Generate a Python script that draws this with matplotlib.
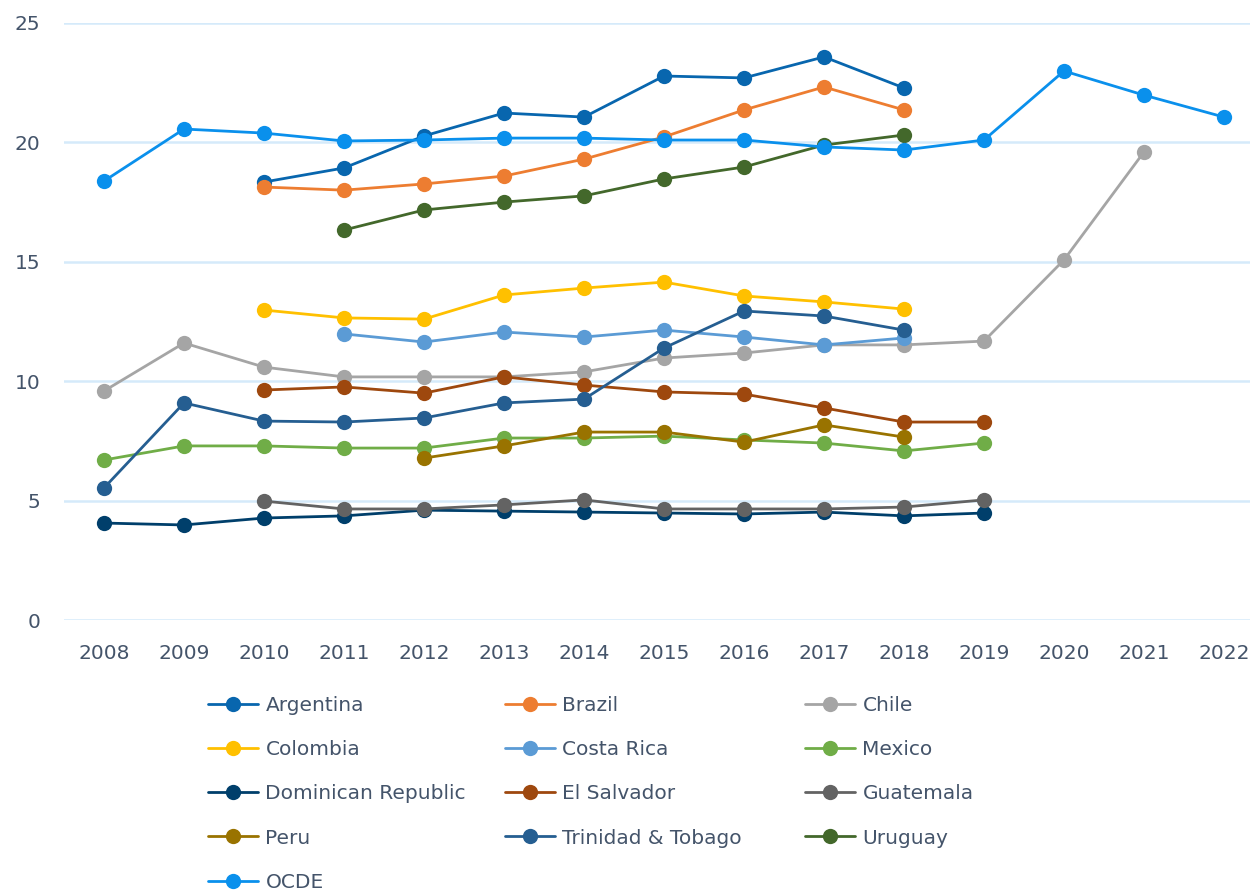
import matplotlib
matplotlib.use("Agg")
import matplotlib.pyplot as plt
import numpy as np

years = list(range(2008, 2023))

argentina = [None, None, 18.34, 18.93, 20.27, 21.23, 21.06, 22.78, 22.70, 23.58, 22.28, None, None, None, None]
brazil = [None, None, 18.13, 18.0, 18.26, 18.59, 19.3, 20.23, 21.36, 22.32, 21.36, None, None, None, None]
chile = [9.59, 11.6, 10.59, 10.18, 10.18, 10.18, 10.39, 10.97, 11.18, 11.52, 11.52, 11.68, 15.08, 19.6, None]
colombia = [None, None, 12.98, 12.65, 12.6, 13.61, 13.9, 14.15, 13.57, 13.32, 13.02, None, None, None, None]
costa_rica = [None, None, None, 11.98, 11.64, 12.06, 11.85, 12.14, 11.85, 11.52, 11.81, None, None, None, None]
mexico = [6.7, 7.29, 7.29, 7.2, 7.2, 7.62, 7.62, 7.7, 7.54, 7.41, 7.08, 7.41, None, None, None]
dominican = [4.06, 3.98, 4.27, 4.36, 4.6, 4.56, 4.52, 4.48, 4.44, 4.52, 4.36, 4.48, None, None, None]
el_salvador = [None, None, 9.63, 9.76, 9.5, 10.18, 9.84, 9.55, 9.46, 8.88, 8.29, 8.29, None, None, None]
guatemala = [None, None, 4.98, 4.65, 4.65, 4.82, 5.03, 4.65, 4.65, 4.65, 4.73, 5.03, None, None, None]
peru = [None, None, None, None, 6.78, 7.29, 7.87, 7.87, 7.45, 8.17, 7.66, None, None, None, None]
trinidad = [5.53, 9.09, 8.33, 8.29, 8.46, 9.09, 9.25, 11.39, 12.94, 12.73, 12.14, None, None, None, None]
uruguay = [None, None, None, 16.33, 17.17, 17.5, 17.76, 18.47, 18.97, 19.89, 20.31, None, None, None, None]
ocde = [18.38, 20.56, 20.39, 20.06, 20.1, 20.18, 20.18, 20.1, 20.1, 19.81, 19.68, 20.1, 22.99, 21.98, 21.06]

names = ["Argentina", "Brazil", "Chile", "Colombia", "Costa Rica", "Mexico",
         "Dominican Republic", "El Salvador", "Guatemala", "Peru",
         "Trinidad & Tobago", "Uruguay", "OCDE"]
series = [argentina, brazil, chile, colombia, costa_rica, mexico, dominican,
          el_salvador, guatemala, peru, trinidad, uruguay, ocde]
colors = ["#0866AE", "#ED7D31", "#A5A5A5", "#FFC000", "#5B9BD5", "#70AD47",
          "#003F6B", "#9E480E", "#636363", "#997300", "#255E91", "#43682B", "#0A90EC"]

yticks = [0, 5, 10, 15, 20, 25]

plt.rcParams['font.family'] = ['DejaVu Sans']
text_color = "#44546A"

fig = plt.figure(figsize=(12.5, 8.93), dpi=100)
ax = fig.add_axes([64 / 1250, 1 - 620 / 893, 1200 / 1250, 597 / 893])

lines = []
for name, vals, col in zip(names, series, colors):
    x = [y for y, v in zip(years, vals) if v is not None]
    y = [v for v in vals if v is not None]
    ln, = ax.plot(x, y, color=col, lw=2.0, marker='o', markersize=11,
                  markeredgewidth=0, label=name, solid_capstyle='round', clip_on=False)
    lines.append(ln)

ax.set_xlim(2007.5, 2022.5)
ax.set_ylim(0, 25)
ax.set_xticks(years)
ax.set_xticklabels([str(y) for y in years])
ax.set_yticks(yticks)
ax.set_yticklabels([str(t) for t in yticks])
ax.grid(axis='y', color='#D5EAFA', lw=1.8)
ax.set_axisbelow(True)
for s in ax.spines.values():
    s.set_visible(False)
ax.tick_params(axis='both', length=0, labelsize=14.5, labelcolor=text_color)
ax.tick_params(axis='y', pad=17)
ax.tick_params(axis='x', pad=17.5)

# legend: three columns, rows filled left to right
cols = [[0, 3, 6, 9, 12], [1, 4, 7, 10], [2, 5, 8, 11]]
col_x = [208, 505, 805]
for cx, idx in zip(col_x, cols):
    fig.legend([lines[i] for i in idx], [names[i] for i in idx],
               loc='upper left', bbox_to_anchor=(cx / 1250, 1 - 696 / 893),
               frameon=False, fontsize=14.5, labelcolor=text_color,
               handlelength=2.5, handletextpad=0.35, labelspacing=1.25,
               borderpad=0, borderaxespad=0, markerscale=1.0)

fig.savefig("out.png", dpi=100)
